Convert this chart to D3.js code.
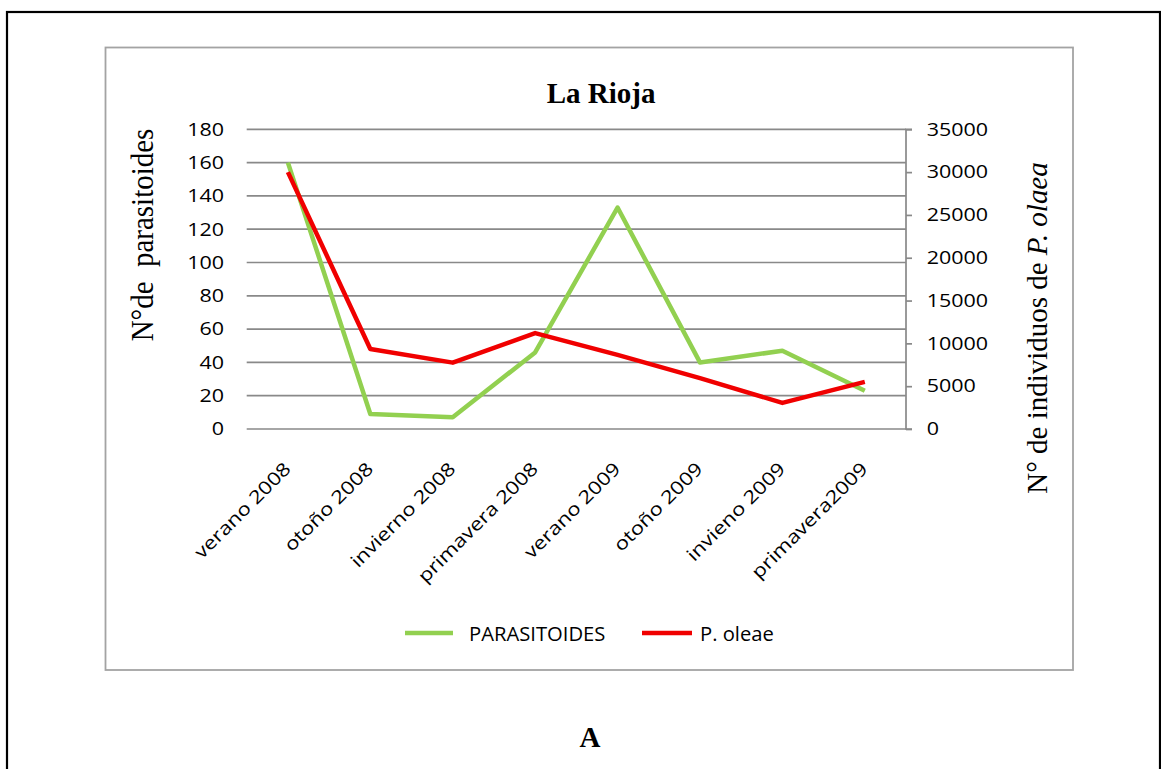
<!DOCTYPE html>
<html><head><meta charset="utf-8">
<script src="https://cdn.jsdelivr.net/npm/d3@7"></script>
<style>html,body{margin:0;padding:0;background:#fff;}svg{display:block;}</style>
</head><body>
<svg id="c" width="1161" height="769"></svg>
<script>
const categories = ["verano 2008","otoño 2008","invierno 2008","primavera 2008","verano 2009","otoño 2009","invieno 2009","primavera2009"];
const parasitoides = [160, 9, 7, 46, 133, 40, 47, 23];
const poleae = [30000, 9350, 7750, 11200, 8650, 5950, 3050, 5500];
const leftTicks = [0,20,40,60,80,100,120,140,160,180];
const rightTicks = [0,5000,10000,15000,20000,25000,30000,35000];
const seriesNames = ["PARASITOIDES","P. oleae"];
const seriesColors = ["#92D050","#F00000"];

const svg = d3.select("#c");
const SANS = "'Open Sans', sans-serif";
const SERIF = "'Liberation Serif', 'Times New Roman', serif";

// outer page frame
svg.append("rect").attr("x",7).attr("y",12).attr("width",1153).attr("height",800)
  .attr("fill","none").attr("stroke","#000").attr("stroke-width",2.2);
// chart frame
svg.append("rect").attr("x",105.5).attr("y",47.5).attr("width",967.5).attr("height",622.5)
  .attr("fill","none").attr("stroke","#a3a3a3").attr("stroke-width",1.8);

const x = d3.scaleBand().domain(categories).range([246.7, 906]);
const yL = d3.scaleLinear().domain([0,180]).range([429, 129.3]);
const yR = d3.scaleLinear().domain([0,35000]).range([429, 129.3]);
const cx = d => x(d) + x.bandwidth()/2;

// gridlines
svg.append("g").selectAll("line").data(leftTicks).join("line")
  .attr("x1",246.7).attr("x2",906).attr("y1",d=>yL(d)).attr("y2",d=>yL(d))
  .attr("stroke","#898989").attr("stroke-width",1.7);

// right axis
const gR = svg.append("g").attr("transform","translate(906,0)");
gR.call(d3.axisRight(yR).tickValues(rightTicks).tickSize(6).tickFormat(""));
gR.selectAll("path,line").attr("stroke","#898989").attr("stroke-width",1.7);
gR.select(".domain").attr("d", `M6,${yR(35000)}H0V${yR(0)}H6`);

// left tick labels
svg.append("g").selectAll("text").data(leftTicks).join("text")
  .attr("transform",d=>`translate(224,${yL(d)+6.3}) scale(1.22,1)`)
  .attr("text-anchor","end").attr("font-family",SANS).attr("font-size",17.6).attr("fill","#000")
  .text(d=>d);
// right tick labels
svg.append("g").selectAll("text").data(rightTicks).join("text")
  .attr("transform",d=>`translate(926.7,${yR(d)+6.3}) scale(1.22,1)`)
  .attr("text-anchor","start").attr("font-family",SANS).attr("font-size",17.6).attr("fill","#000")
  .text(d=>d);

// x labels
svg.append("g").selectAll("text").data(categories).join("text")
  .attr("transform",d=>`translate(${cx(d)+4},470) rotate(-45) scale(1.2,1)`)
  .attr("text-anchor","end").attr("font-family",SANS).attr("font-size",18.3).attr("fill","#000")
  .text(d=>d);

// lines
const lineL = d3.line().x((d,i)=>cx(categories[i])).y(d=>yL(d));
const lineR = d3.line().x((d,i)=>cx(categories[i])).y(d=>yR(d));
svg.append("path").datum(parasitoides).attr("d",lineL).attr("fill","none")
  .attr("stroke",seriesColors[0]).attr("stroke-width",4.5).attr("stroke-linejoin","round");
svg.append("path").datum(poleae).attr("d",lineR).attr("fill","none")
  .attr("stroke",seriesColors[1]).attr("stroke-width",4.5).attr("stroke-linejoin","round");

// title
svg.append("text").attr("x",601).attr("y",103.3).attr("text-anchor","middle")
  .attr("font-family",SERIF).attr("font-weight","bold").attr("font-size",29).text("La Rioja");

// axis titles
svg.append("text").attr("transform","translate(153.3,235) scale(1.12,1) rotate(-90)")
  .attr("text-anchor","middle").attr("font-family",SERIF).attr("font-size",29)
  .attr("xml:space","preserve").style("white-space","pre").text("N°de  parasitoides");
const rt = svg.append("text").attr("transform","translate(1047,328) scale(1.05,1) rotate(-90)")
  .attr("text-anchor","middle").attr("font-family",SERIF).attr("font-size",29);
rt.append("tspan").text("N° de individuos de ");
rt.append("tspan").attr("font-style","italic").text("P. olaea");

// legend
const legX = [[405,453,469],[642,692,700]];
seriesNames.forEach((n,i)=>{
  svg.append("line").attr("x1",legX[i][0]).attr("x2",legX[i][1]).attr("y1",633).attr("y2",633)
    .attr("stroke",seriesColors[i]).attr("stroke-width",4.5);
  svg.append("text").attr("x",legX[i][2]).attr("y",640.7).attr("font-family",SANS)
    .attr("font-size",20.2).attr("fill","#000").text(n);
});

// panel letter
svg.append("text").attr("x",590).attr("y",747).attr("text-anchor","middle")
  .attr("font-family",SERIF).attr("font-weight","bold").attr("font-size",29).text("A");
</script>
</body></html>
